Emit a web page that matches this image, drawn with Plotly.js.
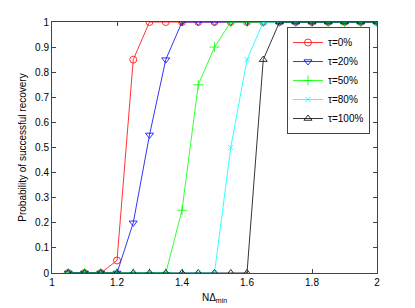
<!DOCTYPE html>
<html><head><meta charset="utf-8">
<script src="https://cdn.plot.ly/plotly-3.0.1.min.js"></script>
<style>html,body{margin:0;padding:0;background:#fff}#chart{width:415px;height:308px}</style>
</head><body><div id="chart"></div>
<script>
const xValues = [1.05,1.1,1.15,1.2,1.25,1.3,1.35,1.4,1.45,1.5,1.55,1.6,1.65,1.7,1.75,1.8,1.85,1.9,1.95,2.0];
const tau0   = [0,0,0,0.05,0.85,1,1,1,1,1,1,1,1,1,1,1,1,1,1,1];
const tau20  = [0,0,0,0,0.2,0.55,0.85,1,1,1,1,1,1,1,1,1,1,1,1,1];
const tau50  = [0,0,0,0,0,0,0,0.25,0.75,0.9,1,1,1,1,1,1,1,1,1,1];
const tau80  = [0,0,0,0,0,0,0,0,0,0,0.5,0.85,1,1,1,1,1,1,1,1];
const tau100 = [0,0,0,0,0,0,0,0,0,0,0,0,0.85,1,1,1,1,1,1,1];
const seriesNames = ['τ=0%','τ=20%','τ=50%','τ=80%','τ=100%'];
const xTicks = [1,1.2,1.4,1.6,1.8,2];
const yTicks = [0,0.1,0.2,0.3,0.4,0.5,0.6,0.7,0.8,0.9,1];

const colors = ['#ff0000','#0000ff','#00ff00','#00ffff','#000000'];
const symbols = ['circle-open','triangle-down-open','cross-thin-open','x-thin-open','triangle-up-open'];
const sizes = [7,7,7,5,7];
const data = [tau0,tau20,tau50,tau80,tau100].map((y,i)=>({
  x: xValues, y: y, name: seriesNames[i], type:'scatter', mode:'lines+markers',
  line:{color:colors[i], width:0.8},
  marker:{symbol:symbols[i], size:sizes[i], color:colors[i], line:{color:colors[i], width:0.8}}
}));
const fontFam = 'Liberation Sans, Arial, sans-serif';
const axisCommon = {showgrid:false, zeroline:false, showline:true, linecolor:'#444', linewidth:1,
  mirror:'ticks', ticks:'inside', ticklen:4, tickcolor:'#444',
  tickfont:{family:fontFam, size:10, color:'#000'}};
const layout = {
  width:415, height:308, margin:{l:52, r:38, t:22, b:35},
  paper_bgcolor:'#fff', plot_bgcolor:'#fff', showlegend:true,
  xaxis: Object.assign({}, axisCommon, {range:[1,2], tickvals:xTicks, ticktext:xTicks.map(v=>String(v)),
    title:{text:'NΔ<sub>min</sub>', font:{family:fontFam, size:10, color:'#000'}, standoff:6}}),
  yaxis: Object.assign({}, axisCommon, {range:[0,1], tickvals:yTicks, ticktext:yTicks.map(v=>String(v)),
    title:{text:'Probability of successful recovery', font:{family:fontFam, size:10, color:'#000'}, standoff:6}}),
  legend:{x:0.723, y:0.98, xanchor:'left', yanchor:'top', bgcolor:'#fff', bordercolor:'#444', borderwidth:1,
    font:{family:fontFam, size:10, color:'#000'}, tracegroupgap:0, itemwidth:30}
};
Plotly.newPlot('chart', data, layout, {displayModeBar:false, staticPlot:true});
</script></body></html>
